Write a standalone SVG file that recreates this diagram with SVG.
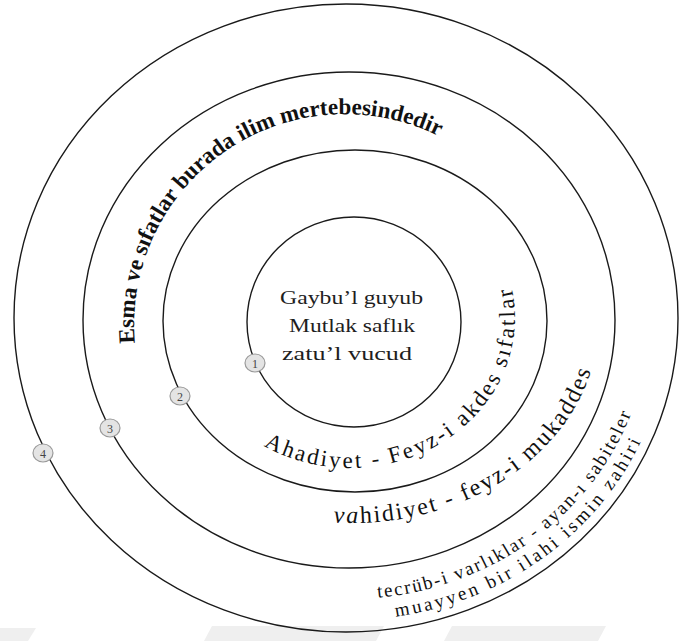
<svg xmlns="http://www.w3.org/2000/svg" width="679" height="641" viewBox="0 0 679 641">
  <style>
    .ring { fill: none; stroke: #1a1a1a; stroke-width: 1.4; }
    .badge { fill: #e4e4e4; stroke: #9a9a9a; stroke-width: 1.2; }
    .num { font-family: "Liberation Serif", "Times New Roman", serif; font-size: 12px; fill: #444; text-anchor: middle; }
    .core { font-family: "Liberation Serif", "Times New Roman", serif; font-size: 18px; fill: #1e1e1e; }
    .arc { font-family: "Liberation Serif", "Times New Roman", serif; fill: #111; }
    .wm { fill: #efefef; }
  </style>
  <defs>
    <path id="pEsma" d="M 141.2 379.6 A 211 211 0 0 1 527.7 219.5"/>
    <path id="pAhad" d="M 223.6 414.4 A 165 150 0 0 0 492.9 243"/>
    <path id="pVahi" d="M 288.1 516.1 A 247 203 0 0 0 595.2 284.7"/>
    <path id="pTec" d="M 321.8 598 A 301 281 0 0 0 647.9 293.5"/>
    <path id="pMua" d="M 320 618.9 A 321 302 0 0 0 667.8 291.7"/>
  </defs>
  <rect width="679" height="641" fill="#ffffff"/>
  <g id="watermark">
    <polygon class="wm" points="0,628 36,628 28,641 0,641"/>
    <polygon class="wm" points="212,626 384,626 376,641 204,641"/>
    <polygon class="wm" points="452,626 606,626 598,641 444,641"/>
  </g>
  <g id="connectors"></g>
  <g id="ring4">
    <ellipse class="ring" cx="346" cy="318" rx="332" ry="314"/>
    <ellipse class="badge" cx="43" cy="453" rx="10" ry="9"/>
    <text class="num" x="43" y="457.5">4</text>
    <text class="arc" font-size="19" letter-spacing="1.9"><textPath href="#pTec" startOffset="56">tecrüb-i varlıklar - ayan-ı sabiteler</textPath></text>
    <text class="arc" font-size="19" letter-spacing="2.9"><textPath href="#pMua" startOffset="76">muayyen bir ilahi ismin zahiri</textPath></text>
  </g>
  <g id="ring3">
    <ellipse class="ring" cx="349" cy="320" rx="266" ry="248"/>
    <ellipse class="badge" cx="110" cy="428" rx="10" ry="9"/>
    <text class="num" x="110" y="432.5">3</text>
    <text class="arc" font-size="24" letter-spacing="2"><textPath href="#pVahi" startOffset="46"><tspan font-style="italic">va</tspan>hidiyet - feyz-i mukaddes</textPath></text>
  </g>
  <g id="ring2">
    <ellipse class="ring" cx="355" cy="321" rx="192" ry="171"/>
    <ellipse class="badge" cx="180" cy="396" rx="10" ry="9"/>
    <text class="num" x="180" y="400.5">2</text>
    <text class="arc" font-size="23" font-weight="bold"><textPath href="#pEsma" startOffset="37">Esma ve sıfatlar burada ilim mertebesindedir</textPath></text>
    <text class="arc" font-size="23" letter-spacing="2.5"><textPath href="#pAhad" startOffset="51">Ahadiyet - Feyz-i akdes sıfatlar</textPath></text>
  </g>
  <g id="ring1">
    <ellipse class="ring" cx="354" cy="322" rx="107" ry="105"/>
    <ellipse class="badge" cx="255" cy="363" rx="10" ry="9"/>
    <text class="num" x="255" y="367.5">1</text>
    <text class="core" x="280" y="304" textLength="143" lengthAdjust="spacingAndGlyphs">Gaybu’l guyub</text>
    <text class="core" x="289" y="332" textLength="126" lengthAdjust="spacingAndGlyphs">Mutlak saflık</text>
    <text class="core" x="282" y="360" textLength="130" lengthAdjust="spacingAndGlyphs">zatu’l vucud</text>
  </g>
</svg>
